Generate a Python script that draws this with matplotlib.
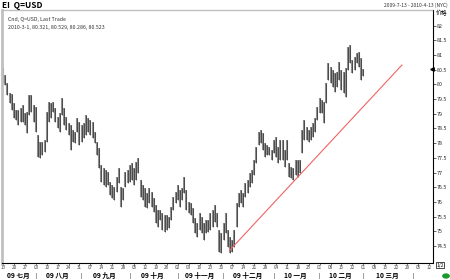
import numpy as np
import pandas as pd
import matplotlib
matplotlib.use('Agg')
import matplotlib.pyplot as plt
from matplotlib.transforms import blended_transform_factory

plt.rcParams['font.family'] = ['Noto Sans CJK SC', 'DejaVu Sans']

# daily high / low of Q=USD, 2009-07-13 .. 2010-03-01
highs = [80.55, 80.32, 80.04, 79.70, 79.67, 79.36, 79.13, 79.13, 79.19, 79.30,
         79.02, 79.06, 79.64, 79.64, 79.30, 79.23, 78.28, 78.04, 78.04, 78.11,
         79.06, 79.40, 79.36, 79.40, 79.19, 78.89, 79.02, 79.53, 79.19, 78.89,
         78.68, 78.62, 78.45, 78.38, 78.85, 78.72, 78.62, 78.68, 78.96, 78.85,
         78.79, 78.72, 78.38, 78.04, 77.83, 77.26, 77.15, 77.09, 77.02, 76.68,
         76.57, 76.51, 76.85, 77.15, 76.51, 76.47, 77.02, 77.09, 77.26, 77.32,
         77.15, 77.36, 77.49, 76.74, 76.57, 76.47, 76.30, 76.47, 76.34, 76.13,
         75.89, 75.72, 75.72, 75.62, 75.55, 75.55, 75.49, 75.83, 76.17, 76.34,
         76.57, 76.40, 76.47, 76.85, 76.40, 76.00, 75.96, 75.79, 75.45, 75.28,
         75.62, 75.49, 75.28, 75.38, 75.38, 75.62, 75.72, 75.89, 75.62, 75.04,
         74.94, 75.28, 75.62, 75.04, 74.81, 74.70, 75.04, 75.96, 76.30, 76.40,
         76.30, 76.64, 76.74, 76.98, 77.09, 77.43, 77.87, 78.38, 78.45, 78.34,
         78.00, 77.94, 77.87, 77.77, 78.11, 78.21, 77.87, 78.11, 78.11, 77.77,
         78.11, 77.32, 77.19, 77.15, 77.43, 77.43, 77.43, 78.45, 78.79, 78.55,
         78.45, 78.55, 78.68, 78.85, 79.23, 79.53, 79.47, 79.40, 80.04, 80.72,
         80.59, 80.49, 80.38, 80.42, 80.76, 80.49, 80.42, 80.55, 81.27, 81.34,
         80.83, 80.93, 81.06, 81.10, 80.89, 80.529]
lows = [80.04, 79.98, 79.64, 79.36, 79.13, 78.85, 78.79, 78.62, 78.72, 78.72,
        78.62, 78.34, 78.96, 79.06, 78.72, 78.38, 77.53, 77.49, 77.60, 77.70,
        78.04, 78.72, 78.85, 79.06, 78.72, 78.51, 78.38, 78.96, 78.62, 78.45,
        78.28, 77.77, 78.04, 78.00, 78.38, 77.94, 78.04, 78.17, 78.28, 78.38,
        78.28, 78.17, 78.00, 77.60, 77.15, 76.68, 76.57, 76.51, 76.57, 76.23,
        76.13, 76.06, 76.34, 76.64, 75.83, 76.06, 76.51, 76.64, 76.68, 76.74,
        76.57, 76.74, 76.98, 76.17, 76.06, 75.83, 75.79, 75.96, 75.83, 75.66,
        75.28, 75.15, 75.38, 75.04, 74.98, 75.04, 75.11, 75.38, 75.72, 75.96,
        76.06, 75.83, 76.06, 76.30, 75.72, 75.62, 75.55, 75.28, 74.94, 74.81,
        75.04, 74.94, 74.70, 74.94, 74.98, 75.04, 75.15, 75.32, 75.15, 74.30,
        74.26, 74.70, 74.94, 74.47, 74.26, 74.30, 74.47, 75.15, 75.83, 75.96,
        75.83, 76.17, 76.30, 76.51, 76.64, 76.91, 77.32, 77.94, 78.00, 77.77,
        77.53, 77.60, 77.60, 77.43, 77.66, 77.53, 77.32, 77.43, 77.43, 77.19,
        77.43, 76.85, 76.81, 76.74, 76.91, 76.85, 76.98, 77.66, 78.11, 78.11,
        78.04, 78.11, 78.21, 78.38, 78.79, 79.02, 79.02, 78.68, 79.36, 80.15,
        80.04, 79.91, 79.74, 79.91, 80.15, 79.81, 79.70, 79.57, 80.49, 80.72,
        80.38, 80.49, 80.72, 80.59, 80.15, 80.286]
last_ohlc = [80.321, 80.529, 80.286, 80.523]

# trend line (bar index, price)
trend_x = [103.9, 182.7]
trend_y = [74.36, 80.66]

week_labels = ['13', '20', '27', '03', '10', '17', '24', '31', '07', '14', '21', '28',
               '05', '12', '19', '26', '02', '09', '16', '23', '30', '07', '14', '21',
               '28', '04', '11', '18', '25', '01', '08', '15', '22', '01', '08', '15',
               '22', '29', '05', '12']
month_names = ['09 七月', '09 八月', '09 九月', '09 十月', '09 十一月', '09 十二月',
               '10 一月', '10 二月', '10 三月']

days = pd.bdate_range('2009-07-13', '2010-04-12')
idx = np.arange(len(highs))

fig = plt.figure(figsize=(4.5, 2.8), dpi=100)
fig.patch.set_facecolor('white')
ax = fig.add_axes([2 / 450, 17 / 280, 430.5 / 450, 253.5 / 280])

ax.vlines(idx, lows, highs, color='#8e8e8e', lw=1.5)
ax.vlines(idx, lows, highs, color='#262626', lw=0.45)
ax.plot(trend_x, trend_y, color='#f06464', lw=0.8)

ax.set_xlim(-0.5, 196.7)
ax.set_ylim(73.92, 82.55)

ax.yaxis.tick_right()
yt = np.arange(74.5, 82.01, 0.5)
ax.set_yticks(yt)
ax.set_yticklabels(['{:g}'.format(v) for v in yt])
ax.tick_params(axis='y', length=2, width=0.5, labelsize=3.8, pad=1, colors='#222222')

ax.set_xticks(np.arange(0, len(days), 5))
ax.set_xticklabels(week_labels)
ax.tick_params(axis='x', length=1.2, width=0.5, labelsize=3.3, pad=0.4, colors='#444444')

for s in ['left', 'top']:
    ax.spines[s].set_color('#c0c0c0')
ax.spines['left'].set_linewidth(2)
ax.spines['top'].set_linewidth(1)
for s in ['right', 'bottom']:
    ax.spines[s].set_color('black')
    ax.spines[s].set_linewidth(0.8)

# month labels and separators along the bottom edge
trans = blended_transform_factory(ax.transData, fig.transFigure)
months = days.to_period('M')
starts = [i for i in range(1, len(days)) if months[i] != months[i - 1]]
bounds = [0] + starts + [len(days)]
for k, name in enumerate(month_names):
    mid = (bounds[k] + bounds[k + 1] - 1) / 2
    ax.text(mid, 0.002, name, transform=trans, ha='center', va='bottom',
            fontsize=4.8, fontweight='bold', clip_on=False)
for s in starts:
    ax.text(s, 0.004, '|', transform=trans, ha='center', va='bottom',
            fontsize=3.8, clip_on=False)

# last price marker
ax.plot([196.7], [last_ohlc[3]], marker='<', color='black', ms=2.5, clip_on=False)

fig.text(2 / 450, 1 - 5 / 280, 'EI  Q=USD', fontsize=6, fontweight='bold', va='center')
fig.text(448 / 450, 1 - 5 / 280, '2009-7-13 - 2010-4-13 (NYC)', fontsize=3.6,
         ha='right', va='center', color='#333333')
fig.text(436 / 450, 1 - 13 / 280, '价格', fontsize=4.2, va='center')
ax.text(0.015, 0.97, 'Cnd, Q=USD, Last Trade', transform=ax.transAxes, fontsize=3.8,
        va='top', color='#333333')
ax.text(0.015, 0.94, '2010-3-1, ' + ', '.join('{:.3f}'.format(v) for v in last_ohlc),
        transform=ax.transAxes, fontsize=3.8, va='top', color='#333333')
fig.text(440 / 450, 1 - 265 / 280, '1/2', fontsize=3.5, ha='center', va='center',
         bbox=dict(boxstyle='square,pad=0.15', fc='white', ec='black', lw=0.5))
fig.patches.append(plt.Circle((446 / 450, 1 - 276 / 280), 0.007, color='#1a9a2a',
                              transform=fig.transFigure))

fig.savefig('out.png', dpi=100)
